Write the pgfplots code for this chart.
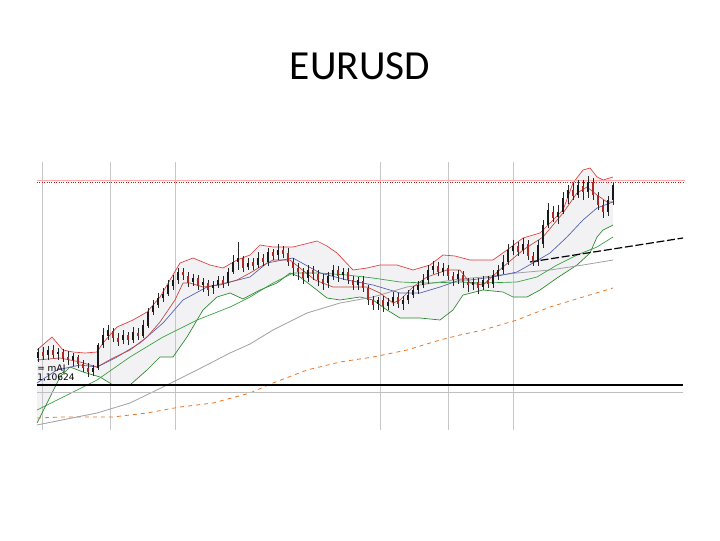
\documentclass[border=0pt]{standalone}
\usepackage{fontspec}
\setmainfont{Carlito}
\newfontfamily\smallsans{DejaVu Sans}
\usepackage{pgfplots}
\pgfplotsset{compat=1.18}
\usepackage{pgfplotstable}
\usepgfplotslibrary{fillbetween}

\definecolor{bandRed}{RGB}{225,60,60}
\definecolor{innerRed}{RGB}{190,70,60}
\definecolor{smaBlue}{RGB}{80,95,175}
\definecolor{bandGreen}{RGB}{40,135,40}
\definecolor{smaGreen}{RGB}{50,160,60}
\definecolor{smaGray}{RGB}{160,160,165}
\definecolor{smaOrange}{RGB}{230,120,40}
\definecolor{candleRed}{RGB}{170,40,35}
\definecolor{bandFill}{RGB}{242,242,244}

% candles, in picture coordinates (y grows downward): x open close high low
\pgfplotstableread{
x o c h l
38 358 352 348 362
43 352 356 347 360
48 355 350 346 360
53 350 355 345 358
58 354 352 348 360
63 352 358 349 362
68 357 360 351 365
73 360 356 353 366
78 357 364 355 368
83 364 368 360 372
88 368 372 363 377
93 372 368 365 376
98 368 345 343 370
103 345 335 328 348
108 336 330 325 340
113 331 338 328 342
118 338 342 333 346
123 340 335 330 344
128 335 340 332 345
133 340 332 327 343
138 333 336 328 340
143 336 325 320 338
148 326 312 308 328
153 312 306 300 315
158 305 298 293 308
163 298 294 288 302
168 294 285 280 296
173 286 280 275 290
178 280 272 268 284
183 272 275 268 280
188 276 283 272 287
193 282 278 274 286
198 278 286 275 290
203 285 282 278 292
208 283 290 280 296
213 288 285 281 294
218 285 280 276 288
223 280 284 276 288
228 283 272 268 286
233 272 262 255 274
238 262 258 242 270
243 258 268 256 272
248 267 263 258 270
253 262 266 258 270
258 265 258 252 268
263 258 262 254 266
268 262 252 248 266
273 252 256 249 260
278 255 250 244 260
283 250 254 246 258
288 253 262 248 266
293 262 268 258 276
298 268 272 263 280
303 272 278 268 284
308 278 270 265 282
313 270 274 266 280
318 274 280 270 286
323 279 284 274 290
328 283 276 272 288
333 276 270 265 280
338 270 276 266 282
343 275 272 268 280
348 272 280 268 284
353 280 285 276 290
358 285 280 277 290
363 281 288 276 292
368 288 300 285 305
373 300 305 296 310
378 304 300 297 310
383 300 306 296 312
388 306 302 298 310
393 302 297 292 306
398 297 304 293 308
403 304 300 296 310
408 300 295 290 304
413 295 290 286 298
418 290 285 281 294
423 285 280 274 288
428 280 270 265 284
433 270 266 261 274
438 266 272 262 276
443 272 268 263 276
448 268 276 265 280
453 276 280 272 286
458 279 274 270 284
463 275 282 271 288
468 282 285 278 292
473 285 282 278 290
478 282 288 278 294
483 287 280 276 290
488 280 284 276 288
493 284 275 270 288
498 276 270 265 280
503 270 262 255 274
508 262 250 244 265
513 251 246 240 255
518 246 252 242 256
523 250 244 238 254
528 244 256 240 260
533 256 262 252 266
538 262 245 240 266
543 244 225 220 248
548 225 210 203 228
553 212 218 206 222
558 217 212 205 224
563 212 198 192 214
568 198 190 185 204
573 190 196 183 200
578 195 185 180 198
583 186 192 180 200
588 192 182 176 198
593 182 195 178 200
598 195 205 192 210
603 205 212 200 218
608 212 200 196 216
613 200 185 183 205
}\candles

\begin{document}
\begin{tikzpicture}
\begin{axis}[
    width=540pt, height=405pt, scale only axis,
    xmin=0, xmax=720, ymin=0, ymax=540, y dir=reverse,
    axis line style={draw=none}, xtick=\empty, ytick=\empty,
    clip=false, set layers, unbounded coords=jump,
]
% title
\node[font=\fontsize{31}{36}\selectfont, anchor=center] at (axis cs:360,66) {EURUSD};

% vertical grid
\addplot[black!22, line width=0.6pt] coordinates {
  (42,162) (42,430) (42,nan)
  (110,162) (110,430) (110,nan)
  (175,162) (175,430) (175,nan)
  (380,162) (380,430) (380,nan)
  (448,162) (448,430) (448,nan)
  (513,162) (513,430)};

% bollinger bands
\addplot[bandRed, line width=0.5pt, name path=up] coordinates {
 (37,350)(45,343)(52,337)(63,350)(73,352)(85,353)(97,352)(103,343)(117,327)
 (133,320)(147,312)(160,297)(170,280)(180,263)(193,258)(210,265)(223,268)
 (237,260)(250,255)(260,245)(273,247)(293,247)(305,244)(317,241)(327,246)
 (337,253)(353,270)(367,268)(380,265)(397,265)(413,270)(430,265)(443,255)
 (455,256)(470,260)(493,260)(507,250)(523,238)(540,233)(553,220)(563,210)
 (573,183)(583,170)(590,168)(597,177)(603,180)(613,177)};
\addplot[bandGreen, line width=0.5pt, name path=lo] coordinates {
 (37,423)(47,403)(60,377)(70,367)(83,372)(100,377)(113,385)(130,385)
 (147,370)(160,357)(173,357)(187,337)(203,310)(217,297)(230,293)(243,299)
 (260,290)(277,283)(290,273)(300,277)(313,287)(327,298)(340,300)(360,297)
 (373,300)(387,310)(400,318)(420,318)(440,320)(453,310)(463,295)(483,290)
 (503,292)(513,297)(527,297)(540,290)(557,278)(577,265)(590,253)(597,237)
 (603,230)(613,225)};
\addplot[bandFill] fill between[of=up and lo];

% moving averages
\addplot[smaOrange, line width=0.6pt, dashed] coordinates {
 (37,418)(63,417)(113,417)(147,413)(180,407)(213,403)(250,393)(273,383)
 (307,370)(340,362)(373,357)(407,350)(440,340)(460,335)(483,330)(517,320)
 (550,307)(583,297)(613,288)};
\addplot[smaGray, line width=0.6pt] coordinates {
 (37,425)(97,413)(130,403)(163,387)(197,370)(230,353)(250,344)(273,330)
 (307,313)(340,303)(373,297)(407,287)(440,282)(460,279)(483,277)(517,273)
 (550,270)(583,265)(613,260)};
\addplot[smaGreen, line width=0.5pt] coordinates {
 (37,410)(63,397)(97,380)(130,357)(163,337)(197,320)(230,307)(250,297)
 (273,283)(293,273)(320,273)(347,275)(373,278)(400,282)(427,283)(460,282)
 (483,283)(517,282)(537,277)(557,265)(577,255)(597,247)(613,237)};
\addplot[smaBlue, line width=0.5pt] coordinates {
 (37,383)(57,370)(80,365)(97,367)(117,357)(140,343)(163,323)(183,300)
 (207,287)(230,282)(250,277)(267,263)(293,258)(320,273)(347,280)(373,285)
 (400,293)(420,293)(440,287)(460,280)(470,280)(493,277)(517,272)(533,263)
 (550,253)(567,237)(583,220)(597,208)(613,202)};
\addplot[innerRed, line width=0.5pt] coordinates {
 (37,360)(60,358)(80,362)(97,367)(113,358)(130,350)(147,337)(160,322)
 (175,300)(183,283)(190,283)(203,287)(220,285)(237,280)(250,273)(260,267)
 (273,260)(290,260)(300,268)(315,280)(333,287)(367,287)(380,293)(393,303)
 (400,300)(413,287)(427,277)(447,270)(460,270)(470,283)(483,285)(503,267)
 (523,250)(543,237)(563,213)(577,193)(587,187)(597,195)(607,202)(613,202)};

% horizontal levels
\addplot[red!35, line width=0.5pt] coordinates {(37,180) (685,180)};
\addplot[candleRed, line width=0.8pt, densely dotted] coordinates {(37,182.5) (685,182.5)};
\addplot[black!25, line width=0.6pt] coordinates {(37,392) (683,392)};
\addplot[black, line width=0.8pt] coordinates {(37,385) (683,385)};
\addplot[black, line width=0.9pt, dashed, dash pattern=on 6pt off 2pt] coordinates {(530,262) (683,238)};

% candles: wicks
\addplot[draw=none, mark=none,
  error bars/.cd, y dir=plus, y explicit, error mark=none,
  error bar style={draw=black!85, line width=0.5pt}]
  table[x=x, y=h, y error plus expr=\thisrow{l}-\thisrow{h}] {\candles};
% candles: bodies (rising)
\addplot[draw=none, mark=none,
  x filter/.expression={\thisrow{c}<\thisrow{o} ? x : nan},
  error bars/.cd, y dir=plus, y explicit, error mark=none,
  error bar style={draw=black!90, line width=1.9pt}]
  table[x=x, y=c, y error plus expr=\thisrow{o}-\thisrow{c}] {\candles};
% candles: bodies (falling)
\addplot[draw=none, mark=none,
  x filter/.expression={\thisrow{c}>\thisrow{o} ? x : nan},
  error bars/.cd, y dir=plus, y explicit, error mark=none,
  error bar style={draw=candleRed, line width=1.9pt}]
  table[x=x, y=o, y error plus expr=\thisrow{c}-\thisrow{o}] {\candles};

% price labels
\node[font=\smallsans\fontsize{6.8}{7}\selectfont, anchor=west, inner sep=0pt] at (axis cs:37,369) {= mAJ};
\node[font=\smallsans\fontsize{6.8}{7}\selectfont, anchor=west, inner sep=0pt] at (axis cs:37,378) {1,10624};
\end{axis}
\end{tikzpicture}
\end{document}
